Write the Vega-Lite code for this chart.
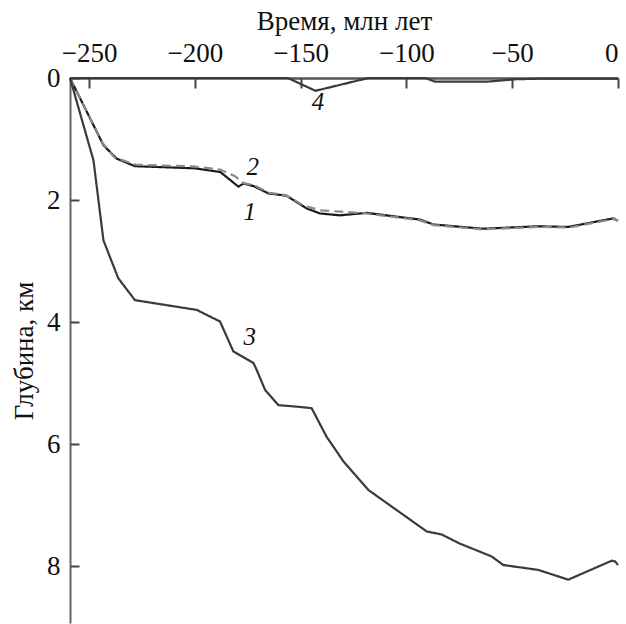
{
  "$schema": "https://vega.github.io/schema/vega-lite/v6.json",
  "autosize": {"type": "none"},
  "width": 548,
  "height": 545,
  "padding": {"left": 70, "top": 78, "right": 8, "bottom": 1},
  "background": "white",
  "config": {
    "view": {"stroke": null},
    "font": "Liberation Serif"
  },
  "resolve": {"scale": {"x": "shared", "y": "shared"}, "axis": {"x": "independent", "y": "independent"}},
  "datasets": {
    "curves": [
      {"curve": "1", "t": -259, "depth": 0},
      {"curve": "1", "t": -243.2, "depth": 1.1},
      {"curve": "1", "t": -237, "depth": 1.32},
      {"curve": "1", "t": -228.3, "depth": 1.445},
      {"curve": "1", "t": -200, "depth": 1.48},
      {"curve": "1", "t": -188, "depth": 1.54},
      {"curve": "1", "t": -179.4, "depth": 1.78},
      {"curve": "1", "t": -177, "depth": 1.73},
      {"curve": "1", "t": -172.3, "depth": 1.77},
      {"curve": "1", "t": -165.3, "depth": 1.89},
      {"curve": "1", "t": -156.6, "depth": 1.93},
      {"curve": "1", "t": -147, "depth": 2.14},
      {"curve": "1", "t": -140.8, "depth": 2.22},
      {"curve": "1", "t": -131.4, "depth": 2.25},
      {"curve": "1", "t": -118.8, "depth": 2.21},
      {"curve": "1", "t": -93.6, "depth": 2.32},
      {"curve": "1", "t": -87.3, "depth": 2.4},
      {"curve": "1", "t": -63.7, "depth": 2.47},
      {"curve": "1", "t": -38.4, "depth": 2.43},
      {"curve": "1", "t": -23.5, "depth": 2.44},
      {"curve": "1", "t": -2.2, "depth": 2.3},
      {"curve": "1", "t": 0, "depth": 2.34},
      {"curve": "2", "t": -259, "depth": 0},
      {"curve": "2", "t": -243.5, "depth": 1.07},
      {"curve": "2", "t": -238, "depth": 1.3},
      {"curve": "2", "t": -228, "depth": 1.42},
      {"curve": "2", "t": -200, "depth": 1.45},
      {"curve": "2", "t": -188, "depth": 1.5},
      {"curve": "2", "t": -181, "depth": 1.61},
      {"curve": "2", "t": -177, "depth": 1.72},
      {"curve": "2", "t": -172, "depth": 1.76},
      {"curve": "2", "t": -165, "depth": 1.88},
      {"curve": "2", "t": -157, "depth": 1.92},
      {"curve": "2", "t": -148, "depth": 2.1},
      {"curve": "2", "t": -140, "depth": 2.17},
      {"curve": "2", "t": -131, "depth": 2.19},
      {"curve": "2", "t": -119, "depth": 2.22},
      {"curve": "2", "t": -94, "depth": 2.33},
      {"curve": "2", "t": -87, "depth": 2.41},
      {"curve": "2", "t": -64, "depth": 2.48},
      {"curve": "2", "t": -38, "depth": 2.44},
      {"curve": "2", "t": -23, "depth": 2.45},
      {"curve": "2", "t": -2, "depth": 2.31},
      {"curve": "2", "t": 0, "depth": 2.34},
      {"curve": "3", "t": -259, "depth": 0},
      {"curve": "3", "t": -247.9, "depth": 1.35},
      {"curve": "3", "t": -243.2, "depth": 2.66},
      {"curve": "3", "t": -236.2, "depth": 3.28},
      {"curve": "3", "t": -228.3, "depth": 3.64},
      {"curve": "3", "t": -199.1, "depth": 3.8},
      {"curve": "3", "t": -188.1, "depth": 3.99},
      {"curve": "3", "t": -181.8, "depth": 4.48},
      {"curve": "3", "t": -172.3, "depth": 4.67},
      {"curve": "3", "t": -170.8, "depth": 4.78},
      {"curve": "3", "t": -166.8, "depth": 5.11},
      {"curve": "3", "t": -160.5, "depth": 5.36},
      {"curve": "3", "t": -150.3, "depth": 5.39},
      {"curve": "3", "t": -144.8, "depth": 5.41},
      {"curve": "3", "t": -137.7, "depth": 5.88},
      {"curve": "3", "t": -129.8, "depth": 6.28},
      {"curve": "3", "t": -118, "depth": 6.75},
      {"curve": "3", "t": -90.4, "depth": 7.43},
      {"curve": "3", "t": -83.3, "depth": 7.48},
      {"curve": "3", "t": -74.7, "depth": 7.63},
      {"curve": "3", "t": -59.7, "depth": 7.84},
      {"curve": "3", "t": -54.2, "depth": 7.98},
      {"curve": "3", "t": -37.7, "depth": 8.06},
      {"curve": "3", "t": -23.5, "depth": 8.22},
      {"curve": "3", "t": -3, "depth": 7.91},
      {"curve": "3", "t": -1.4, "depth": 7.92},
      {"curve": "3", "t": 0, "depth": 7.98},
      {"curve": "4", "t": -259, "depth": 0},
      {"curve": "4", "t": -156, "depth": 0},
      {"curve": "4", "t": -143, "depth": 0.21},
      {"curve": "4", "t": -118, "depth": 0},
      {"curve": "4", "t": -91, "depth": 0},
      {"curve": "4", "t": -86.5, "depth": 0.06},
      {"curve": "4", "t": -62, "depth": 0.06},
      {"curve": "4", "t": -48, "depth": 0.02},
      {"curve": "4", "t": -35, "depth": 0.01},
      {"curve": "4", "t": 0, "depth": 0.01}
    ],
    "labels": [
      {"label": "1", "t": -174, "depth": 2.19},
      {"label": "2", "t": -172.6, "depth": 1.46},
      {"label": "3", "t": -174, "depth": 4.24},
      {"label": "4", "t": -141.8, "depth": 0.4}
    ]
  },
  "layer": [
    {
      "data": {"name": "curves"},
      "mark": {"type": "line", "strokeWidth": 2.2, "clip": false},
      "encoding": {
        "x": {
          "field": "t", "type": "quantitative",
          "scale": {"domain": [-259, 0], "nice": false, "zero": false},
          "axis": {
            "orient": "top", "title": "Время, млн лет", "values": [-250, -200, -150, -100, -50, 0], "format": "d",
            "grid": false, "domainColor": "#555", "domainWidth": 2.5, "ticks": false,
            "labelFont": "Liberation Serif", "labelFontSize": 27, "labelColor": "#111", "labelPadding": 11,
            "titleFont": "Liberation Serif", "titleFontSize": 27, "titleFontWeight": "normal", "titleColor": "#111", "titlePadding": 4
          }
        },
        "y": {
          "field": "depth", "type": "quantitative",
          "scale": {"domain": [0, 8.93], "reverse": true, "nice": false},
          "axis": {
            "title": "Глубина, км", "values": [0, 2, 4, 6, 8], "format": "d",
            "grid": false, "domainColor": "#666", "domainWidth": 2, "ticks": false,
            "labelFont": "Liberation Serif", "labelFontSize": 27, "labelColor": "#111", "labelPadding": 10,
            "titleFont": "Liberation Serif", "titleFontSize": 27, "titleFontWeight": "normal", "titleColor": "#111", "titlePadding": 8
          }
        },
        "detail": {"field": "curve"},
        "color": {"field": "curve", "type": "nominal", "scale": {"domain": ["1", "2", "3", "4"], "range": ["#1a1a1a", "#8a8a8a", "#3a3a3a", "#3a3a3a"]}, "legend": null},
        "strokeDash": {"field": "curve", "type": "nominal", "scale": {"domain": ["1", "2", "3", "4"], "range": [[1, 0], [9, 5], [1, 0], [1, 0]]}, "legend": null},
        "order": {"field": "t", "type": "quantitative"}
      }
    },
    {
      "data": {"name": "labels"},
      "mark": {"type": "text", "font": "Liberation Serif", "fontStyle": "italic", "fontSize": 25, "color": "#111", "align": "center", "baseline": "middle"},
      "encoding": {
        "x": {"field": "t", "type": "quantitative",
          "axis": {"orient": "top", "offset": -10, "values": [-250, -200, -150, -100, -50, 0], "domain": false, "labels": false, "title": null, "grid": false, "ticks": true, "tickSize": 10, "tickColor": "#444", "tickWidth": 2}
        },
        "y": {"field": "depth", "type": "quantitative",
          "axis": {"orient": "left", "offset": -9, "values": [0, 2, 4, 6, 8], "domain": false, "labels": false, "title": null, "grid": false, "ticks": true, "tickSize": 9, "tickColor": "#444", "tickWidth": 2}
        },
        "text": {"field": "label"}
      }
    }
  ]
}
